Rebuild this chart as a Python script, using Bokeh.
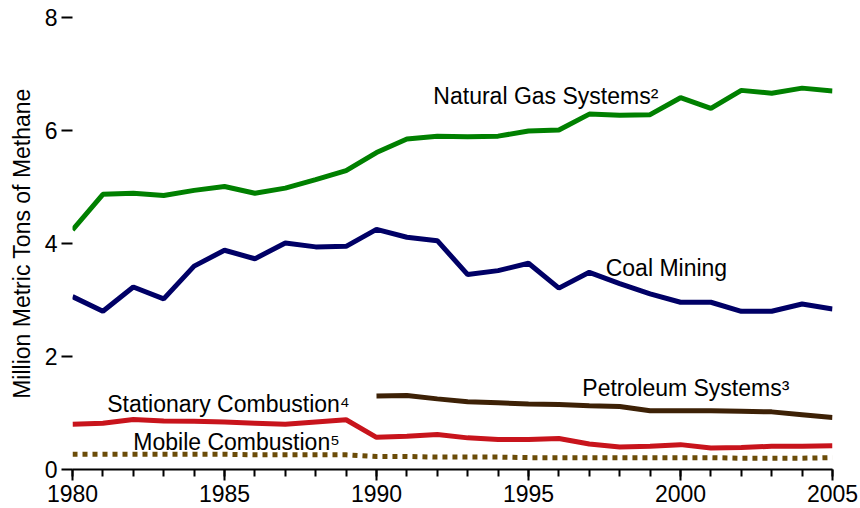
from bokeh.plotting import figure
from bokeh.models import Range1d, SingleIntervalTicker, Label
from bokeh.embed import file_html
from bokeh.resources import INLINE

years = list(range(1980, 2006))
natural_gas = [4.24, 4.87, 4.89, 4.85, 4.94, 5.01, 4.89, 4.98, 5.13, 5.29,
               5.61, 5.85, 5.90, 5.89, 5.90, 5.99, 6.01, 6.29, 6.27, 6.28,
               6.58, 6.39, 6.71, 6.66, 6.75, 6.70]
coal_mining = [3.06, 2.80, 3.23, 3.02, 3.60, 3.88, 3.73, 4.01, 3.94, 3.95,
               4.25, 4.11, 4.05, 3.45, 3.52, 3.65, 3.21, 3.49, 3.29, 3.11,
               2.96, 2.96, 2.80, 2.80, 2.93, 2.84]
petro_years = list(range(1990, 2006))
petroleum = [1.30, 1.31, 1.25, 1.20, 1.18, 1.16, 1.15, 1.13, 1.115, 1.04,
             1.04, 1.04, 1.03, 1.02, 0.97, 0.92]
stationary = [0.80, 0.82, 0.885, 0.86, 0.855, 0.84, 0.82, 0.80, 0.84, 0.88,
              0.57, 0.59, 0.62, 0.56, 0.53, 0.53, 0.55, 0.45, 0.40, 0.41,
              0.44, 0.38, 0.39, 0.41, 0.41, 0.42]
mobile = [0.27, 0.27, 0.27, 0.27, 0.27, 0.27, 0.26, 0.26, 0.26, 0.26,
          0.23, 0.23, 0.22, 0.22, 0.22, 0.21, 0.21, 0.21, 0.21, 0.21,
          0.21, 0.21, 0.20, 0.20, 0.20, 0.21]

labels = ["Natural Gas Systems²", "Coal Mining", "Petroleum Systems³",
          "Stationary Combustion⁴", "Mobile Combustion⁵"]

FONT = "Liberation Sans"
FS = "23px"

p = figure(width=860, height=508, output_backend="svg", toolbar_location=None,
           x_range=Range1d(1980, 2005), y_range=Range1d(0, 8),
           min_border_left=72, min_border_right=28, min_border_top=17,
           min_border_bottom=39)
p.outline_line_color = None
p.xgrid.visible = False
p.ygrid.visible = False
p.background_fill_color = "white"
p.border_fill_color = "white"

p.line(years, natural_gas, line_color="#008000", line_width=5)
p.line(years, coal_mining, line_color="#000066", line_width=5)
p.line(petro_years, petroleum, line_color="#3d2106", line_width=5)
p.line(years, stationary, line_color="#c8141c", line_width=5)
p.line(years, mobile, line_color="#6b4c08", line_width=5, line_dash="5 5")

# x axis
xa = p.xaxis[0]
xa.ticker = SingleIntervalTicker(interval=5, num_minor_ticks=5)
xa.axis_line_color = "black"
xa.axis_line_width = 2
xa.major_tick_line_width = 2
xa.minor_tick_line_width = 2
xa.major_tick_out = 11
xa.major_tick_in = 0
xa.minor_tick_out = 7
xa.minor_tick_in = 0
xa.major_label_standoff = 4
xa.major_label_text_font = FONT
xa.major_label_text_font_size = FS
xa.major_label_text_color = "black"

# y axis
ya = p.yaxis[0]
ya.ticker = SingleIntervalTicker(interval=2, num_minor_ticks=0)
ya.axis_line_color = None
ya.major_tick_line_width = 2
ya.major_tick_out = 11
ya.major_tick_in = 0
ya.minor_tick_line_color = None
ya.major_label_standoff = 4
ya.major_label_text_font = FONT
ya.major_label_text_font_size = FS
ya.major_label_text_color = "black"
ya.axis_label = "Million Metric Tons of Methane"
ya.axis_label_text_font = FONT
ya.axis_label_text_font_size = FS
ya.axis_label_text_font_style = "normal"
ya.axis_label_text_color = "black"
ya.axis_label_standoff = 7

label_x = [1991.87, 1997.54, 1996.77, 1981.14, 1982.0]
label_y = [6.607, 3.57, 1.434, 1.151, 0.49]
for t, lx, ly in zip(labels, label_x, label_y):
    p.add_layout(Label(x=lx, y=ly, text=t, text_font=FONT,
                       text_font_size=FS, text_color="black",
                       text_baseline="alphabetic", text_align="left"))

open("out.html", "w").write(file_html(p, INLINE))
